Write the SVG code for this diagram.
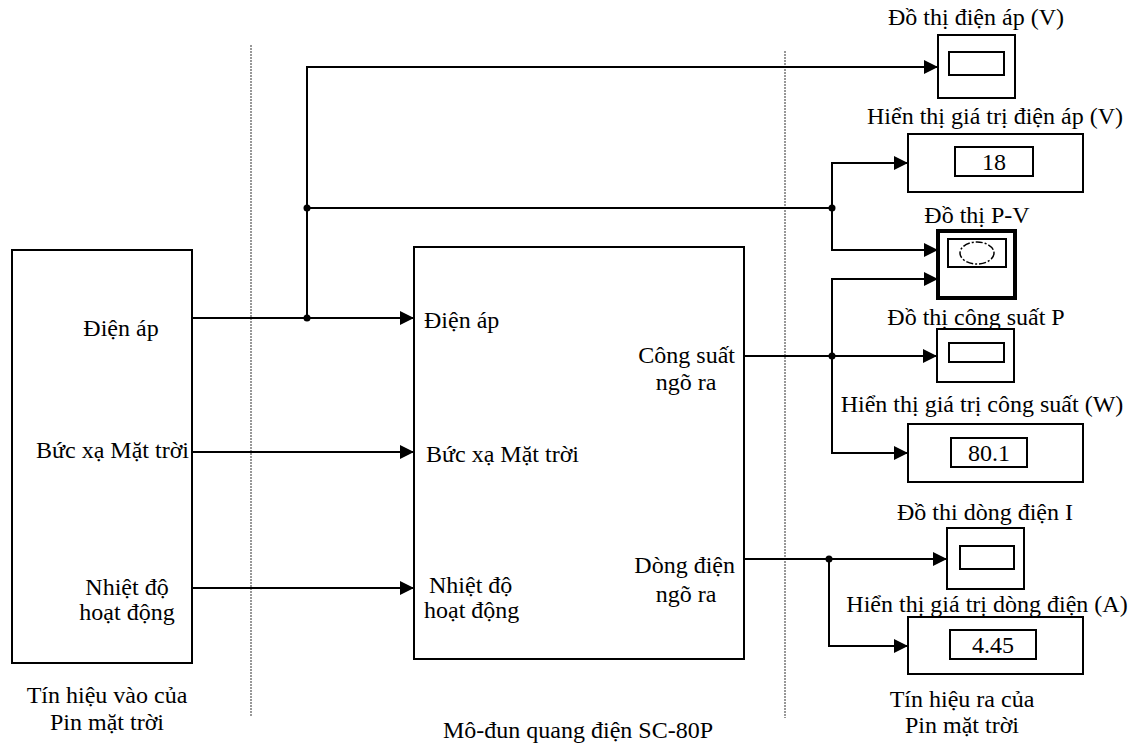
<svg xmlns="http://www.w3.org/2000/svg" width="1132" height="746" viewBox="0 0 1132 746">
<style>
text{font-family:"Liberation Serif","DejaVu Serif","Times New Roman",serif;font-size:24px;fill:#000}
.box{fill:#fff;stroke:#000;stroke-width:2}
.in{fill:none;stroke:#000;stroke-width:2}
.wire{fill:none;stroke:#000;stroke-width:2}
.sep{stroke:#777;stroke-width:1.5;stroke-dasharray:2 1}
.m{text-anchor:middle}
.e{text-anchor:end}
</style>
<defs>
<marker id="ar" viewBox="0 0 14 14" refX="14" refY="7" markerWidth="14" markerHeight="14" markerUnits="userSpaceOnUse" orient="auto">
<path d="M0,0 L14,7 L0,14 Z" fill="#000"/>
</marker>
</defs>
<rect width="1132" height="746" fill="#fff"/>
<g id="separators">
<line class="sep" x1="251" y1="45" x2="251" y2="717"/>
<line class="sep" x1="785" y1="51" x2="785" y2="718"/>
</g>
<g id="inputs">
<rect class="box" x="12" y="250" width="180" height="413"/>
<text class="m" x="121" y="336">Điện áp</text>
<text class="e" x="189" y="458">Bức xạ Mặt trời</text>
<text class="m" x="127" y="595">Nhiệt độ</text>
<text class="m" x="127" y="620">hoạt động</text>
<text class="m" x="107" y="703">Tín hiệu vào của</text>
<text class="m" x="107" y="730">Pin mặt trời</text>
</g>
<g id="module">
<rect class="box" x="414" y="247" width="330" height="412"/>
<text x="424" y="328">Điện áp</text>
<text x="426" y="462">Bức xạ Mặt trời</text>
<text x="429" y="593">Nhiệt độ</text>
<text x="424" y="618">hoạt động</text>
<text class="e" x="735" y="363">Công suất</text>
<text class="m" x="686" y="390">ngõ ra</text>
<text class="e" x="735" y="573">Dòng điện</text>
<text class="m" x="686" y="602">ngõ ra</text>
<text class="m" x="578" y="738">Mô-đun quang điện SC-80P</text>
</g>
<g id="scope-v">
<text class="m" x="976" y="25">Đồ thị điện áp (V)</text>
<rect class="box" x="938" y="35" width="77" height="63"/>
<rect class="in" x="949" y="52" width="55" height="23"/>
</g>
<g id="display-v">
<text class="m" x="995" y="124">Hiển thị giá trị điện áp (V)</text>
<rect class="box" x="908" y="134" width="175" height="58"/>
<rect class="in" x="955" y="147" width="78" height="29"/>
<text class="m" x="994" y="170">18</text>
</g>
<g id="scope-pv">
<text class="m" x="977" y="223">Đồ thị P-V</text>
<rect x="938" y="231" width="77" height="67" fill="#fff" stroke="#000" stroke-width="4"/>
<rect class="in" x="948" y="239" width="58" height="28"/>
<ellipse cx="977" cy="253" rx="17" ry="11" fill="none" stroke="#000" stroke-width="1.5" stroke-dasharray="7 2 2 2"/>
</g>
<g id="scope-p">
<text class="m" x="976" y="325">Đồ thị công suất P</text>
<rect class="box" x="937" y="329" width="77" height="53"/>
<rect class="in" x="949" y="343" width="55" height="19"/>
</g>
<g id="display-p">
<text class="m" x="982" y="412">Hiển thị giá trị công suất (W)</text>
<rect class="box" x="908" y="424" width="175" height="58"/>
<rect class="in" x="951" y="438" width="76" height="29"/>
<text class="m" x="989" y="461">80.1</text>
</g>
<g id="scope-i">
<text class="m" x="985" y="520">Đồ thi dòng điện I</text>
<rect class="box" x="947" y="528" width="77" height="61"/>
<rect class="in" x="960" y="546" width="54" height="23"/>
</g>
<g id="display-i">
<text class="m" x="987" y="612">Hiển thị giá trị dòng điện (A)</text>
<rect class="box" x="908" y="617" width="175" height="57"/>
<rect class="in" x="950" y="630" width="86" height="29"/>
<text class="m" x="993" y="653">4.45</text>
<text class="m" x="962" y="707">Tín hiệu ra của</text>
<text class="m" x="962" y="733">Pin mặt trời</text>
</g>
<g id="connectors">
<path class="wire" d="M192,318 H414" marker-end="url(#ar)"/>
<path class="wire" d="M192,452 H414" marker-end="url(#ar)"/>
<path class="wire" d="M192,588 H414" marker-end="url(#ar)"/>
<path class="wire" d="M307,318 V67 H938" marker-end="url(#ar)"/>
<path class="wire" d="M307,208 H832"/>
<path class="wire" d="M832,208 V163 H908" marker-end="url(#ar)"/>
<path class="wire" d="M832,208 V250 H938" marker-end="url(#ar)"/>
<path class="wire" d="M744,356 H937" marker-end="url(#ar)"/>
<path class="wire" d="M832,453 V279 H938" marker-end="url(#ar)"/>
<path class="wire" d="M832,356 V453 H908" marker-end="url(#ar)"/>
<path class="wire" d="M744,559 H947" marker-end="url(#ar)"/>
<path class="wire" d="M829,559 V646 H908" marker-end="url(#ar)"/>
<circle cx="307" cy="318" r="3.5"/>
<circle cx="307" cy="208" r="3.5"/>
<circle cx="832" cy="208" r="3.5"/>
<circle cx="832" cy="356" r="3.5"/>
<circle cx="829" cy="559" r="3.5"/>
</g>
</svg>
